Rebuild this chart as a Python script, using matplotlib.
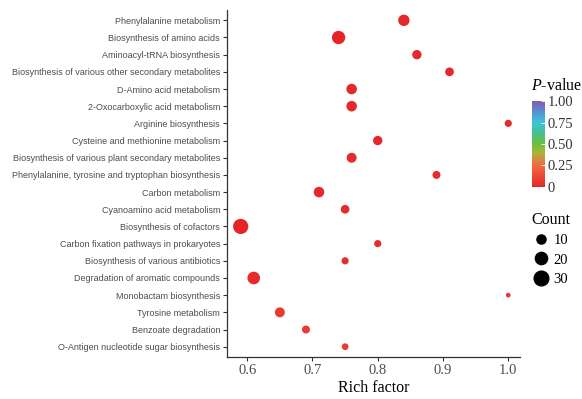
import matplotlib
matplotlib.use("Agg")
import matplotlib.pyplot as plt
import numpy as np
from matplotlib.colors import LinearSegmentedColormap, Normalize
from matplotlib.lines import Line2D

plt.rcParams["mathtext.fontset"] = "custom"
plt.rcParams["mathtext.it"] = "Liberation Serif:italic"
plt.rcParams["mathtext.rm"] = "Liberation Serif"

pathways = [
    "Phenylalanine metabolism",
    "Biosynthesis of amino acids",
    "Aminoacyl-tRNA biosynthesis",
    "Biosynthesis of various other secondary metabolites",
    "D-Amino acid metabolism",
    "2-Oxocarboxylic acid metabolism",
    "Arginine biosynthesis",
    "Cysteine and methionine metabolism",
    "Biosynthesis of various plant secondary metabolites",
    "Phenylalanine, tyrosine and tryptophan biosynthesis",
    "Carbon metabolism",
    "Cyanoamino acid metabolism",
    "Biosynthesis of cofactors",
    "Carbon fixation pathways in prokaryotes",
    "Biosynthesis of various antibiotics",
    "Degradation of aromatic compounds",
    "Monobactam biosynthesis",
    "Tyrosine metabolism",
    "Benzoate degradation",
    "O-Antigen nucleotide sugar biosynthesis",
]
rich_factor = [0.84, 0.74, 0.86, 0.91, 0.76, 0.76, 1.00, 0.80, 0.76, 0.89,
               0.71, 0.75, 0.59, 0.80, 0.75, 0.61, 1.00, 0.65, 0.69, 0.75]
count = [19, 27, 12, 10, 16, 16, 6, 12, 14, 8,
         16, 10, 36, 6, 6, 24, 1, 14, 8, 5]
pvalue = [0.01, 0.0, 0.01, 0.01, 0.01, 0.01, 0.02, 0.01, 0.02, 0.02,
          0.01, 0.02, 0.0, 0.02, 0.03, 0.02, 0.05, 0.08, 0.08, 0.08]

legend_counts = [10, 20, 30]

cmap = LinearSegmentedColormap.from_list("pv", [
    (0.0, "#e6252a"), (0.25, "#f06a42"), (0.4, "#a9b53a"), (0.5, "#6cbf3c"),
    (0.62, "#45c08c"), (0.75, "#3ec3d8"), (0.88, "#5b8ed2"), (1.0, "#7e5cb0")])
norm = Normalize(0, 1)


def size_px(c):
    # marker diameter in pixels, area grows with count
    return np.sqrt(15.5 + 6.0 * np.asarray(c, dtype=float))


fig = plt.figure(figsize=(5.82, 3.99), dpi=100)
ax = fig.add_axes([227 / 582, 1 - 357 / 399, (520 - 227) / 582, (357 - 10) / 399])

ypos = np.arange(len(pathways))
s = (size_px(count) * 0.72) ** 2
ax.scatter(rich_factor, ypos, s=s, c=pvalue, cmap=cmap, norm=norm,
           edgecolors="none", zorder=3)

ax.set_ylim(len(pathways) - 0.4, -0.6)
ax.set_xlim(0.569, 1.018)
ax.set_yticks(ypos)
ax.set_yticklabels(pathways, fontsize=6.5, color="#4d4d4d",
                   family=["Liberation Sans", "DejaVu Sans"])
ax.set_xticks([0.6, 0.7, 0.8, 0.9, 1.0])
ax.set_xticklabels(["0.6", "0.7", "0.8", "0.9", "1.0"], fontsize=10.5,
                   color="#4d4d4d", family="Liberation Serif")
ax.set_xlabel("Rich factor", fontsize=11.5, family="Liberation Serif",
              labelpad=2)
for side in ["top", "right"]:
    ax.spines[side].set_visible(False)
for side in ["left", "bottom"]:
    ax.spines[side].set_color("#333333")
    ax.spines[side].set_linewidth(0.9)
ax.tick_params(axis="both", length=3, width=0.8, color="#333333", pad=2)

# colorbar for P-value
cax = fig.add_axes([532 / 582, 1 - 190 / 399, 13 / 582, (190 - 98) / 399])
sm = plt.cm.ScalarMappable(norm=norm, cmap=cmap)
cb = fig.colorbar(sm, cax=cax, ticks=[0, 0.25, 0.5, 0.75, 1.0])
cb.ax.set_yticklabels(["0", "0.25", "0.50", "0.75", "1.00"],
                      fontsize=10.5, color="#333333", family="Liberation Serif")
cb.outline.set_visible(False)
cb.ax.tick_params(length=3, color="white", width=0.6, direction="in", pad=2)
cb.ax.set_ylim(-0.035, 1.035)
fig.text(531 / 582, 1 - 86 / 399, r"$\it{P}$-value", fontsize=11.5,
         family="Liberation Serif", va="center", ha="left")

# size legend
handles = [Line2D([], [], ls="none", marker="o", color="black",
                  markersize=size_px(c) * 0.72 * 1.05) for c in legend_counts]
leg = fig.legend(handles, [str(c) for c in legend_counts], title="Count",
                 loc="upper left", bbox_to_anchor=(526 / 582, 1 - 206 / 399),
                 frameon=False, prop={"family": "Liberation Serif", "size": 10.5},
                 handletextpad=0.3, labelspacing=0.42, handlelength=1.2,
                 borderaxespad=0)
leg.get_title().set_fontfamily("Liberation Serif")
leg.get_title().set_fontsize(11.5)
leg._legend_box.align = "left"

fig.savefig("out.png", dpi=100)
